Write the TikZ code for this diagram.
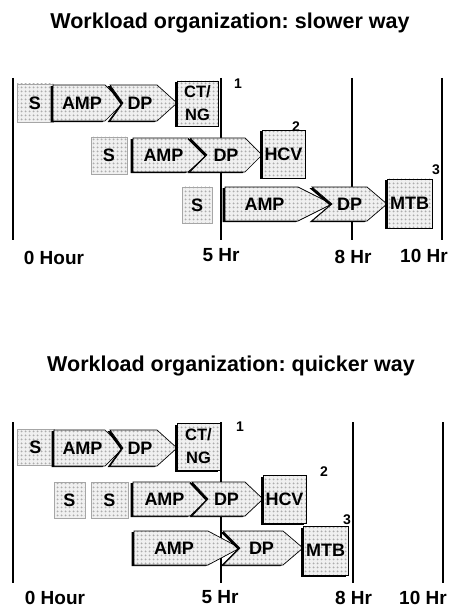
\documentclass[tikz,border=0pt]{standalone}
\usepackage{fontspec}
\setmainfont{Liberation Sans}
\usetikzlibrary{patterns}
\frenchspacing
\pgfdeclarepatternformonly{plusgrid}{\pgfpointorigin}{\pgfpoint{4pt}{4pt}}{\pgfpoint{4pt}{4pt}}{%
  \pgfsetlinewidth{0.7pt}%
  \pgfpathmoveto{\pgfpoint{0.7pt}{2pt}}\pgfpathlineto{\pgfpoint{3.3pt}{2pt}}%
  \pgfpathmoveto{\pgfpoint{2pt}{0.7pt}}\pgfpathlineto{\pgfpoint{2pt}{3.3pt}}%
  \pgfusepath{stroke}}
\tikzset{
  stip/.style={preaction={fill=gray!12}, pattern=plusgrid, pattern color=gray!70},
  shapeline/.style={draw=black, line width=0.7pt},
  sboxline/.style={draw=gray!70, line width=0.6pt},
  shad/.style={fill=black},
  lbl/.style={font=\bfseries\fontsize{18}{20}\selectfont, inner sep=0pt},
  hourlbl/.style={font=\bfseries\fontsize{19}{21}\selectfont, inner sep=0pt},
  numlbl/.style={font=\bfseries\fontsize{14}{16}\selectfont, inner sep=0pt},
  titlelbl/.style={font=\bfseries\fontsize{21.5}{24}\selectfont, inner sep=0pt},
  timeline/.style={line width=1.8pt, draw=black}
}
% S box: name, x1, x2, y1, y2
\newcommand\sampbox[5]{%
  \path[stip,sboxline] (#2,#4) rectangle (#3,#5);
  \node[lbl] (#1) at ({(#2+#3)/2},{(#4+#5)/2}) {S};}
% AMP arrow: name, L, C, T, Y1, Y2, label
\newcommand\ampshape[7]{%
  \fill[shad,xshift=-2.5pt,yshift=-1.2pt] (#2,#5) -- (#3,#5) -- (#4,{(#5+#6)/2}) -- (#3,#6) -- (#2,#6) -- cycle;
  \path[stip,shapeline] (#2,#5) -- (#3,#5) -- (#4,{(#5+#6)/2}) -- (#3,#6) -- (#2,#6) -- cycle;
  \node[lbl] (#1) at ({(#2+#3)/2+3},{(#5+#6)/2}) {#7};}
% DP chevron: name, A, N, C, T, Y1, Y2, label
\newcommand\dpshape[8]{%
  \fill[shad,xshift=-2.5pt,yshift=-1.2pt] (#2,#6) -- (#4,#6) -- (#5,{(#6+#7)/2}) -- (#4,#7) -- (#2,#7) -- (#3,{(#6+#7)/2}) -- cycle;
  \path[stip,shapeline] (#2,#6) -- (#4,#6) -- (#5,{(#6+#7)/2}) -- (#4,#7) -- (#2,#7) -- (#3,{(#6+#7)/2}) -- cycle;
  \node[lbl] (#1) at ({(#3+#4)/2},{(#6+#7)/2}) {#8};}
% test box: name, x1, x2, y1, y2, label
\newcommand\testbox[6]{%
  \fill[shad,xshift=-2.5pt,yshift=-1.5pt] (#2,#4) rectangle (#3,#5);
  \path[stip,shapeline] (#2,#4) rectangle (#3,#5);
  \node[lbl,align=center] (#1) at ({(#2+#3)/2},{(#4+#5)/2}) {#6};}
\begin{document}
\begin{tikzpicture}[x=1pt,y=-1pt]
\useasboundingbox (0,0) rectangle (448,609);
% ---------- top: slower way ----------
\node[titlelbl] (t1) at (230,23) {Workload organization: slower way};
\coordinate (a0t) at (13,78);  \coordinate (a0b) at (13,240);
\coordinate (a5t) at (221,78); \coordinate (a5b) at (221,240);
\coordinate (a8t) at (352,78); \coordinate (a8b) at (352,240);
\coordinate (a10t) at (442,78); \coordinate (a10b) at (442,240);
\draw[timeline] (a0t) -- (a0b);
\draw[timeline] (a5t) -- (a5b);
\draw[timeline] (a8t) -- (a8b);
\draw[timeline] (a10t) -- (a10b);
\node[hourlbl] (h0a) at (54,258) {0 Hour};
\node[hourlbl] (h5a) at (221,255) {5 Hr};
\node[hourlbl] (h8a) at (353,257) {8 Hr};
\node[hourlbl] (h10a) at (424,256) {10 Hr};
% row 1
\sampbox{s1a}{17}{53}{84}{122}
\ampshape{amp1a}{53}{105}{123}{85}{121}{AMP}
\dpshape{dp1a}{110}{123}{157}{177}{85}{121}{DP}
\begingroup\tikzset{lbl/.append style={font=\bfseries\fontsize{16.5}{23}\selectfont}}
\testbox{ct1a}{177}{218}{81}{126}{CT/\\NG}
\endgroup
\node[numlbl] (n1a) at (238,84) {1};
% row 2
\sampbox{s2a}{91}{127}{137}{174}
\ampshape{amp2a}{133}{188}{207}{138}{172}{AMP}
\dpshape{dp2a}{190}{207}{245}{262}{138}{172}{DP}
\testbox{hcv2a}{262}{305}{130}{178}{HCV}
\node[numlbl] (n2a) at (296,127) {2};
% row 3
\sampbox{s3a}{182}{212}{187}{223}
\ampshape{amp3a}{225}{298}{332}{187}{221}{AMP}
\dpshape{dp3a}{312}{332}{367}{387}{187}{221}{DP}
\testbox{mtb3a}{387}{432}{179}{228}{MTB}
\node[numlbl] (n3a) at (436,170) {3};
% ---------- bottom: quicker way ----------
\node[titlelbl] (t2) at (231,366) {Workload organization: quicker way};
\coordinate (b0t) at (13,422);  \coordinate (b0b) at (13,583);
\coordinate (b5t) at (221,422); \coordinate (b5b) at (221,583);
\coordinate (b8t) at (353,422); \coordinate (b8b) at (353,583);
\coordinate (b10t) at (443,422); \coordinate (b10b) at (443,583);
\draw[timeline] (b0t) -- (b0b);
\draw[timeline] (b5t) -- (b5b);
\draw[timeline] (b8t) -- (b8b);
\draw[timeline] (b10t) -- (b10b);
\node[hourlbl] (h0b) at (55,598) {0 Hour};
\node[hourlbl] (h5b) at (220,597) {5 Hr};
\node[hourlbl] (h8b) at (353.5,598) {8 Hr};
\node[hourlbl] (h10b) at (423,598) {10 Hr};
% row 1
\sampbox{s1b}{17}{54}{429}{465}
\ampshape{amp1b}{54}{105}{123}{430}{466}{AMP}
\dpshape{dp1b}{110}{123}{157}{177}{430}{466}{DP}
\begingroup\tikzset{lbl/.append style={font=\bfseries\fontsize{16.5}{23}\selectfont}}
\testbox{ct1b}{177}{220}{423}{470}{CT/\\NG}
\endgroup
\node[numlbl] (n1b) at (240,427) {1};
% row 2
\sampbox{s2b}{54}{85}{482}{518}
\sampbox{s2c}{91}{128}{482}{518}
\ampshape{amp2b}{133}{190}{208}{482}{516}{AMP}
\dpshape{dp2b}{192}{208}{245}{263}{482}{516}{DP}
\testbox{hcv2b}{263}{306}{475}{523}{HCV}
\node[numlbl] (n2b) at (324,472) {2};
% row 3
\ampshape{amp3b}{134}{208}{240}{531}{565}{AMP}
\dpshape{dp3b}{223}{240}{283}{303}{531}{565}{DP}
\testbox{mtb3b}{303}{348}{526}{575}{MTB}
\node[numlbl] (n3b) at (347,520) {3};
\end{tikzpicture}
\end{document}
